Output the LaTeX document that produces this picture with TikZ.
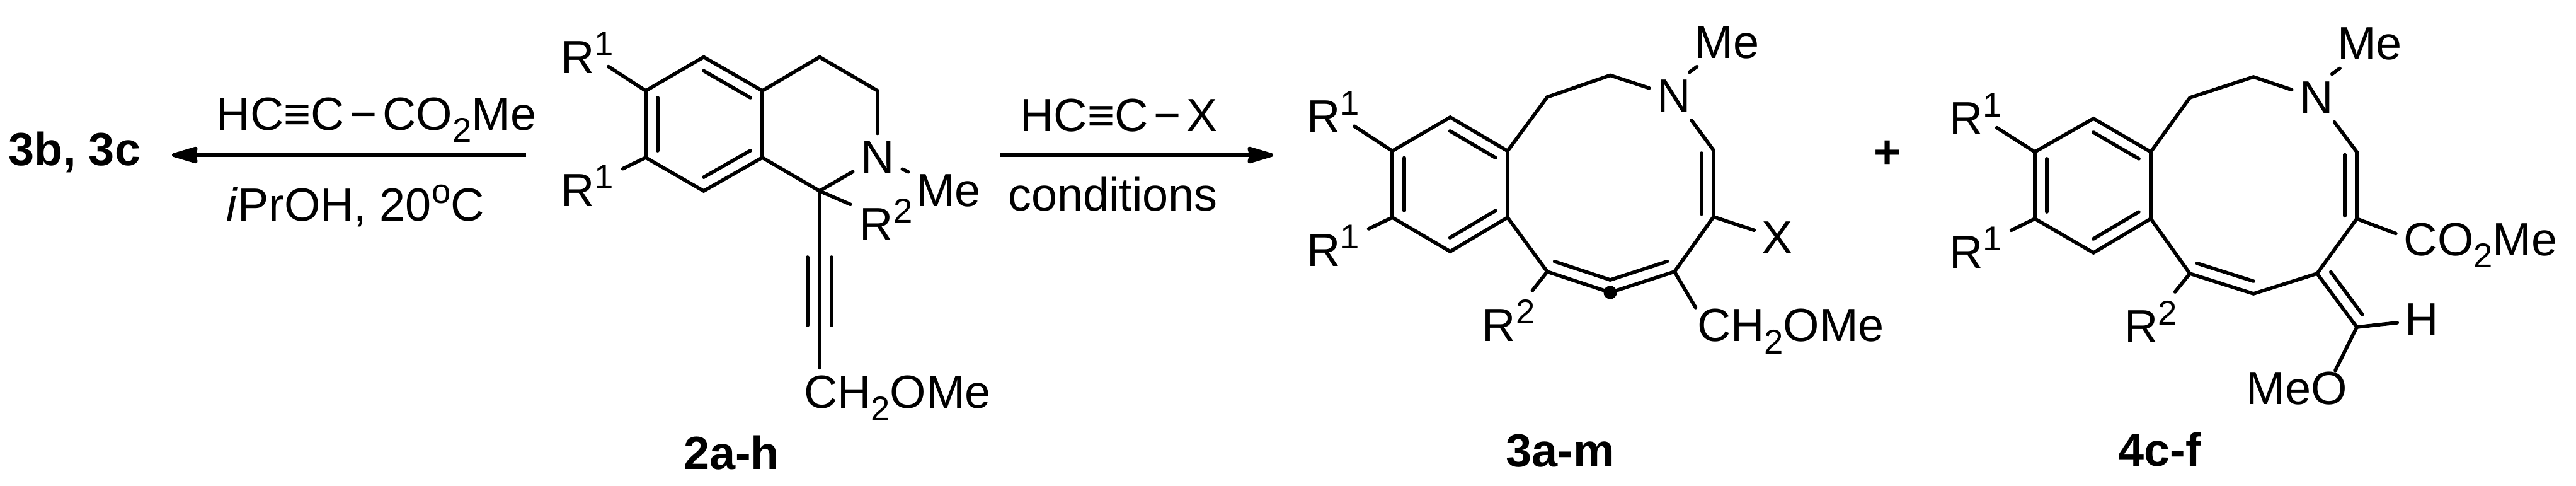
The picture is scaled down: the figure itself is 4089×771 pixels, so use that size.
\documentclass[tikz,border=0pt]{standalone}
\usepackage{fontspec}
\setmainfont{Liberation Sans}
\usetikzlibrary{arrows.meta,calc}
\newcommand{\atomfont}{\fontsize{21}{25}\selectfont}
\newcommand{\atomsub}[1]{\raisebox{-.26em}{\fontsize{15.5}{15.5}\selectfont #1}}
\newcommand{\atomsup}[1]{\raisebox{.38em}{\fontsize{15.5}{15.5}\selectfont #1}}
\newcommand{\innerbond}[3][3.1pt]{\path ($(#2)!#1!(#3)!5.4pt!90:(#3)$) -- ($(#3)!#1!(#2)!5.4pt!-90:(#2)$);}
\begin{document}
\begin{tikzpicture} [
       x=0.01cm, y=-0.01cm,
       atom/.style={font=\atomfont, anchor=base, inner sep=3.4pt},
       rgroup/.style={atom, inner sep=4pt},
       rupper/.style={atom, inner sep=-2.5pt},
       chain/.style={atom, inner sep=0.5pt},
       compound/.style={atom, font=\atomfont\bfseries},
       bond/.style={draw, line width=1.6pt, line cap=round},
       reaction/.style={draw, line width=1.7pt, -{Stealth[length=14pt,width=8pt,inset=1pt,round]}},
       centre/.style={circle, fill=black, inner sep=0pt, minimum size=6pt},
       ]
       \useasboundingbox (0,0) rectangle (4089,771);
       % left arrow and its reagents
       \node (prodb) [compound] at (118.5,263) {3b, 3c};
       \node (reagenta) [atom] at (597.5,206.5) {HC≡C\kern.12em−\kern.12emCO\atomsub{2}Me};
       \node (solvent) [atom] at (564,350.5) {\textit{i}PrOH, 20\atomsup{o}C};
       \coordinate (arra) at (835,246);
       \coordinate (arrb) at (273,246);
       % right arrow
       \node (reagentb) [atom] at (1776,209) {HC≡C\kern.12em−\kern.12emX};
       \node (cond) [atom] at (1766.5,335) {conditions};
       \coordinate (arrc) at (1588,246);
       \coordinate (arrd) at (2021,246);
       \node (plus) [compound] at (2996,267) {+};
       % substrate
       \coordinate (a2) at (1025,144);
       \coordinate (b2) at (1117,90.5);
       \coordinate (c2) at (1210,144);
       \coordinate (d2) at (1210,250);
       \coordinate (e2) at (1117,303);
       \coordinate (f2) at (1025,250);
       \coordinate (g2) at (1301,90.5);
       \coordinate (h2) at (1393,144);
       \coordinate (i2) at (1301,303);
       \coordinate (alka) at (1301,408);
       \coordinate (alkb) at (1301,516);
       \node (n2) [atom] at (1393,275) {N};
       \node (me2) [atom] at (1505.5,328) {Me};
       \node (rr2) [rgroup] at (1406.5,382) {R\atomsup{2}};
       \node (ra2) [rupper] at (932,116.5) {R\atomsup{1}};
       \node (rb2) [rgroup] at (932,328) {R\atomsup{1}};
       \node (ch2) [chain] at (1424.5,648) {CH\atomsub{2}OMe};
       \node (lab2) [compound] at (1161,745) {2a-h};
       % first product
       \coordinate (a3) at (2210,239.5);
       \coordinate (b3) at (2302,186);
       \coordinate (c3) at (2393,239.5);
       \coordinate (d3) at (2393,345);
       \coordinate (e3) at (2302,399);
       \coordinate (f3) at (2210,345);
       \coordinate (g3) at (2456,154);
       \coordinate (h3) at (2556,119.5);
       \coordinate (i3) at (2720,238.5);
       \coordinate (j3) at (2720,344);
       \coordinate (k3) at (2658,431);
       \coordinate (l3) at (2556,464);
       \coordinate (m3) at (2456,431);
       \node (dot3) [centre] at (l3) {};
       \node (n3) [atom] at (2657,178) {N};
       \node (me3) [atom] at (2741,92.4) {Me};
       \node (x3) [atom] at (2821.5,403) {X};
       \node (rr3) [rgroup] at (2394.5,542) {R\atomsup{2}};
       \node (ra3) [rupper] at (2116,211) {R\atomsup{1}};
       \node (rb3) [rgroup] at (2116,423) {R\atomsup{1}};
       \node (ch3) [chain] at (2842.5,542) {CH\atomsub{2}OMe};
       \node (lab3) [compound] at (2477,741) {3a-m};
       % second product
       \coordinate (a4) at (3230,241);
       \coordinate (b4) at (3323,188);
       \coordinate (c4) at (3414,241);
       \coordinate (d4) at (3414,347);
       \coordinate (e4) at (3323,401);
       \coordinate (f4) at (3230,347);
       \coordinate (g4) at (3476,155);
       \coordinate (h4) at (3577,122);
       \coordinate (i4) at (3741,241);
       \coordinate (j4) at (3741,347);
       \coordinate (k4) at (3678,434);
       \coordinate (l4) at (3577,466);
       \coordinate (m4) at (3476,434);
       \coordinate (o4) at (3741,519);
       \node (n4) [atom] at (3677,181) {N};
       \node (me4) [atom] at (3761.5,95) {Me};
       \node (co4) [atom] at (3937.5,405.6) {CO\atomsub{2}Me};
       \node (hh4) [atom] at (3844.5,533) {H};
       \node (meo4) [chain] at (3645.5,642) {MeO};
       \node (rr4) [rgroup] at (3414,544) {R\atomsup{2}};
       \node (ra4) [rupper] at (3136,214) {R\atomsup{1}};
       \node (rb4) [rgroup] at (3136,426) {R\atomsup{1}};
       \node (lab4) [compound] at (3428,740) {4c-f};
       \path [reaction] (arra) -- (arrb);
       \path [reaction] (arrc) -- (arrd);
       \begin{scope}[every path/.style=bond]
       \path (a2) -- (b2) -- (c2) -- (d2) -- (e2) -- (f2) -- (a2);
       \path (c2) -- (g2) -- (h2) -- (n2);
       \path (d2) -- (i2) -- (n2);
       \path (n2) -- (me2);
       \path (i2) -- (rr2);
       \path (a2) -- (ra2);
       \path (f2) -- (rb2);
       \path [shorten >=3pt] (i2) -- (i2 |- ch2.north);
       \path ([xshift=-5.4pt]alka) -- ([xshift=-5.4pt]alkb);
       \path ([xshift=5.4pt]alka) -- ([xshift=5.4pt]alkb);
       \innerbond{c2}{b2}
       \innerbond{a2}{f2}
       \innerbond{e2}{d2}
       \path (a3) -- (b3) -- (c3) -- (d3) -- (e3) -- (f3) -- (a3);
       \path (c3) -- (g3) -- (h3) -- (n3);
       \path (n3) -- (i3) -- (j3) -- (k3) -- (l3) -- (m3) -- (d3);
       \path (n3.57) -- (me3.219);
       \path (j3) -- (x3);
       \path (m3) -- (rr3);
       \path (k3) -- (ch3.north west);
       \path (a3) -- (ra3);
       \path (f3) -- (rb3);
       \innerbond{c3}{b3}
       \innerbond{a3}{f3}
       \innerbond{e3}{d3}
       \innerbond[1.3pt]{j3}{i3}
       \innerbond[1.7pt]{m3}{l3}
       \innerbond[1.7pt]{l3}{k3}
       \path (a4) -- (b4) -- (c4) -- (d4) -- (e4) -- (f4) -- (a4);
       \path (c4) -- (g4) -- (h4) -- (n4);
       \path (n4) -- (i4) -- (j4) -- (k4) -- (l4) -- (m4) -- (d4);
       \path (n4.57) -- (me4.219);
       \path (j4) -- (co4.172);
       \path (k4) -- (o4) -- (hh4);
       \path (o4) -- (meo4.25);
       \path (m4) -- (rr4);
       \path (a4) -- (ra4);
       \path (f4) -- (rb4);
       \innerbond{c4}{b4}
       \innerbond{a4}{f4}
       \innerbond{e4}{d4}
       \innerbond[1.3pt]{j4}{i4}
       \innerbond[1.7pt]{m4}{l4}
       \innerbond{k4}{o4}
       \end{scope}
\end{tikzpicture}
\end{document}
